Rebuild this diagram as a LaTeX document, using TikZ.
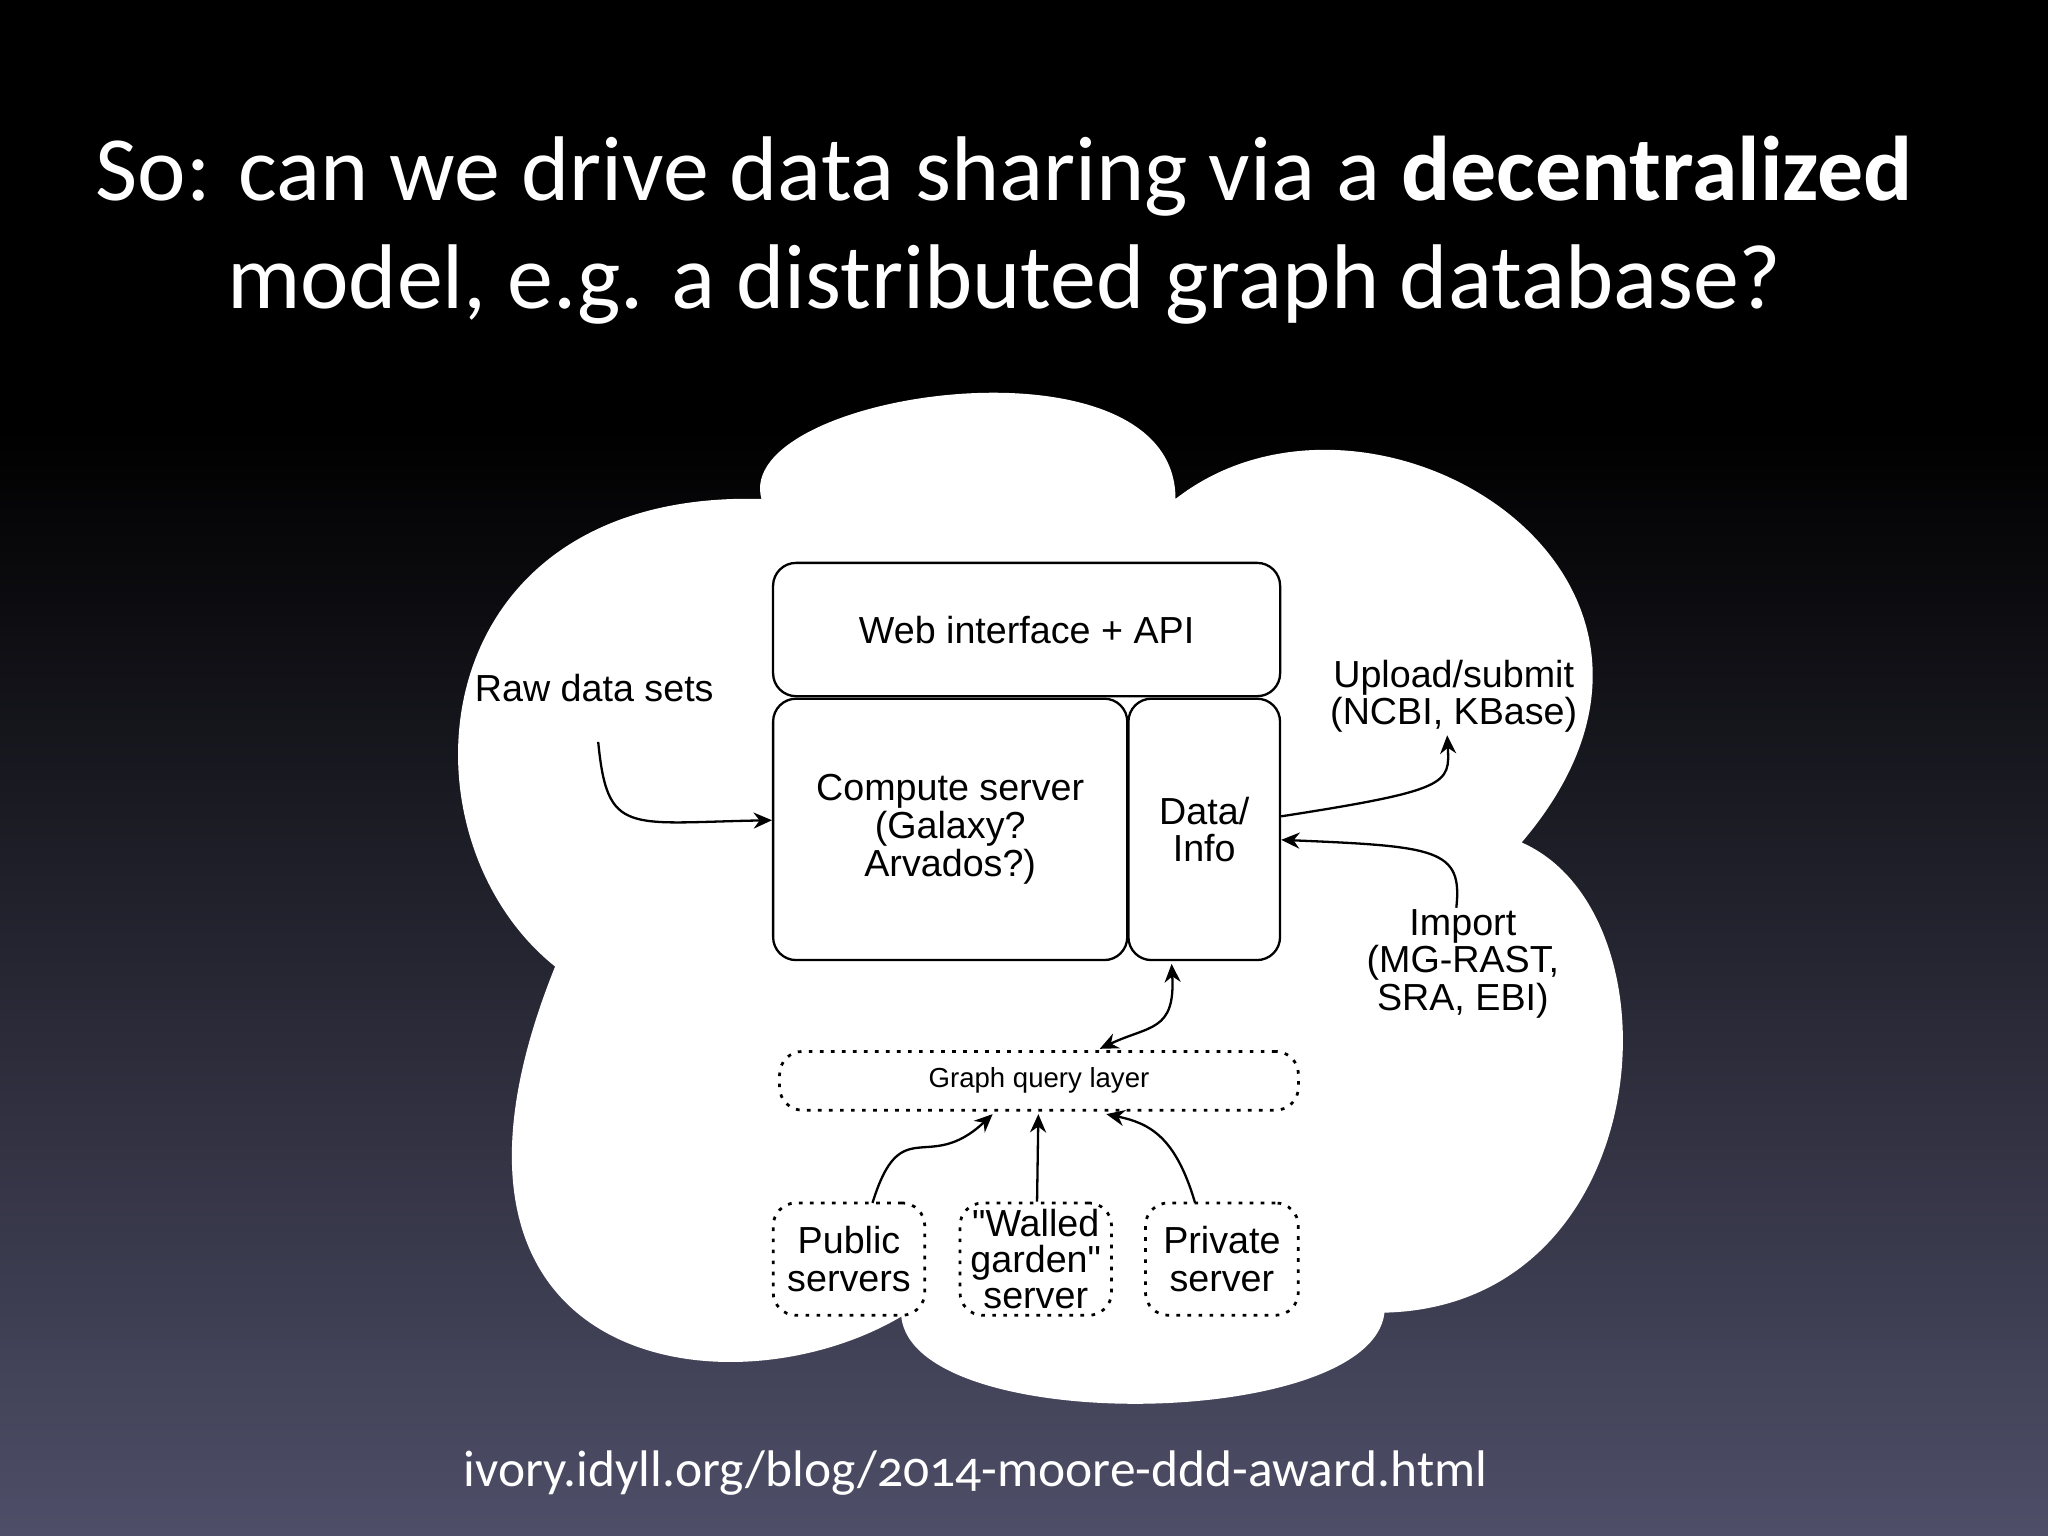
\documentclass[tikz,border=0pt]{standalone}
\usepackage{fontspec}
\setmainfont{Liberation Sans}
\newfontfamily\plainfont{Liberation Sans}
\newfontfamily\titlefont[Numbers=OldStyle]{Carlito}
\usetikzlibrary{arrows.meta}
\begin{document}
\begin{tikzpicture}[x=0.01cm,y=-0.01cm,
  box/.style={draw,rounded corners=5pt,line width=0.5pt,align=center,font=\fontsize{8.2}{8.2}\selectfont,inner sep=0pt},
  dotbox/.style={box,dash pattern=on 0.8pt off 1.6pt,line width=0.6pt},
  lbl/.style={align=center,font=\fontsize{8.2}{8.2}\selectfont,inner sep=0pt},
  conn/.style={line width=0.5pt,-{Stealth[length=4pt,width=3.5pt]}},
  ttl/.style={text=white,font=\titlefont\fontsize{20}{24}\selectfont,inner sep=0pt}]
\useasboundingbox (0,0) rectangle (1568,1176);
\fill[black] (0,0) rectangle (1568,330);
\shade[top color=black,bottom color={rgb,255:red,78;green,78;blue,104}] (0,329) rectangle (1568,1176);
% cloud
\fill[white] (583,382) .. controls (560,300) and (900,250) .. (900,382)
  .. controls (1050,265) and (1340,440) .. (1165,645)
  .. controls (1290,700) and (1270,1000) .. (1060,1005)
  .. controls (1050,1095) and (700,1100) .. (690,1008)
  .. controls (560,1085) and (300,1050) .. (425,740)
  .. controls (300,640) and (320,375) .. (583,382) -- cycle;
\node[ttl] (t1) at (769,135) {So: can we drive data sharing via a \textbf{decentralized}};
\node[ttl] (t2) at (769,218) {model, e.g. a distributed graph database?};
\node[text=white,font=\titlefont\fontsize{11.2}{14}\selectfont,inner sep=0pt] (url) at (747,1128) {ivory.idyll.org/blog/2014-moore-ddd-award.html};
% boxes
\node[box,minimum width=3.88cm,minimum height=1.02cm] (web) at (786,482) {Web interface + API};
\node[box,minimum width=2.71cm,minimum height=2.0cm] (comp) at (727.5,635) {Compute server\\(Galaxy?\\Arvados?)};
\node[box,minimum width=1.16cm,minimum height=2.0cm] (data) at (922,635) {Data/\\Info};
\node[dotbox,minimum width=3.97cm,minimum height=0.45cm,font=\fontsize{6}{6.5}\selectfont] (gql) at (795.5,827.5) {Graph query layer};
\node[dotbox,minimum width=1.16cm,minimum height=0.86cm] (pub) at (650,964) {Public\\servers};
\node[dotbox,minimum width=1.16cm,minimum height=0.86cm,font=\plainfont\fontsize{8.2}{7.9}\selectfont] (wal) at (793,964) {"Walled\\garden"\\server};
\node[dotbox,minimum width=1.17cm,minimum height=0.86cm] (pri) at (935.5,964) {Private\\server};
\node[lbl] (raw) at (455,527) {Raw data sets};
\node[lbl] (up) at (1113,533) {Upload/submit\\(NCBI, KBase)};
\node[lbl] (imp) at (1120,738) {Import\\(MG-RAST,\\SRA, EBI)};
\coordinate (rawend) at (458,568);
\coordinate (upend) at (1108,563);
\coordinate (impend) at (1115,695);
% connectors
\draw[conn] (rawend) .. controls (465,640) and (480,630) .. (comp.west |- 0,628);
\draw[conn] (data.east |- 0,625) .. controls (1110,605) and (1110,600) .. (upend);
\draw[conn] (impend) .. controls (1120,650) and (1100,648) .. (data.east |- 0,643);
\draw[conn,{Stealth[length=4pt,width=3.5pt]}-{Stealth[length=4pt,width=3.5pt]}] (897,738) .. controls (900,790) and (880,785) .. (842,803);
\draw[conn] (668,921) .. controls (690,850) and (710,900) .. (760,853);
\draw[conn] (wal.north -| 794,0) -- (795,853);
\draw[conn] (915,921) .. controls (900,870) and (880,860) .. (847,853);
\end{tikzpicture}
\end{document}
